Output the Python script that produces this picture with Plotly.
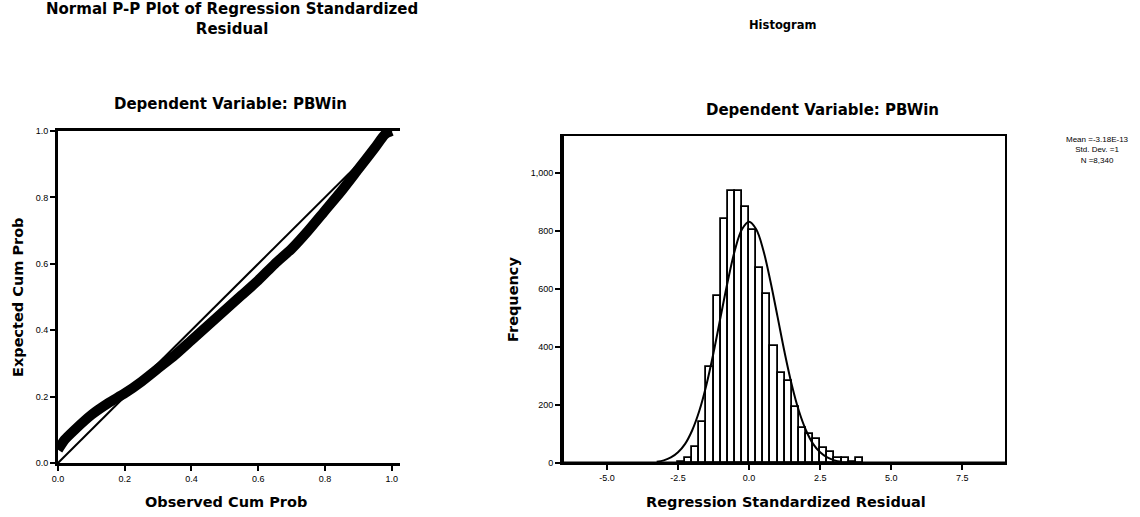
import plotly.graph_objects as go

# ---------------- data ----------------
# P-P plot (observed cumulative probability vs expected cumulative probability)
pp_observed = [0.00, 0.02, 0.05, 0.10, 0.15, 0.20, 0.25, 0.30, 0.35, 0.40, 0.45,
               0.50, 0.55, 0.60, 0.65, 0.70, 0.75, 0.80, 0.85, 0.90, 0.95, 0.98, 1.00]
pp_expected = [0.04, 0.07, 0.10, 0.145, 0.18, 0.21, 0.245, 0.285, 0.325, 0.37, 0.415,
               0.46, 0.505, 0.55, 0.60, 0.645, 0.70, 0.76, 0.82, 0.885, 0.95, 0.99, 1.00]
ref_line = [0.0, 1.0]

pp_ticks = [0.0, 0.2, 0.4, 0.6, 0.8, 1.0]
pp_ticklabels = ["0.0", "0.2", "0.4", "0.6", "0.8", "1.0"]

# Histogram of regression standardized residuals (bin width 0.25)
bin_centers = [-2.375, -2.125, -1.875, -1.625, -1.375, -1.125, -0.875, -0.625, -0.375, -0.125,
               0.125, 0.375, 0.625, 0.875, 1.125, 1.375, 1.625, 1.875, 2.125, 2.375,
               2.625, 2.875, 3.125, 3.375, 3.625, 3.875]
bin_counts = [5, 17, 55, 140, 332, 577, 840, 938, 938, 884,
              805, 672, 583, 405, 312, 282, 192, 122, 100, 84,
              52, 38, 18, 18, 5, 17]
bin_width = 0.25

# Normal curve overlay
curve_x = [-3.25, -3.0, -2.75, -2.5, -2.25, -2.0, -1.75, -1.5, -1.25, -1.0, -0.75, -0.5, -0.25, 0.0,
           0.25, 0.5, 0.75, 1.0, 1.25, 1.5, 1.75, 2.0, 2.25, 2.5, 2.75, 3.0, 3.25]
curve_y = [4, 9, 19, 37, 66, 113, 180, 270, 381, 505, 627, 734, 806, 832,
           806, 734, 627, 505, 381, 270, 180, 113, 66, 37, 19, 9, 4]

hist_xticks = [-5.0, -2.5, 0.0, 2.5, 5.0, 7.5]
hist_xticklabels = ["-5.0", "-2.5", "0.0", "2.5", "5.0", "7.5"]
hist_yticks = [0, 200, 400, 600, 800, 1000]
hist_yticklabels = ["0", "200", "400", "600", "800", "1,000"]

stats_text = ["Mean =-3.18E-13", "Std. Dev. =1", "N =8,340"]

# ---------------- figure ----------------
W, H = 1140, 517
def px(x):
    return x / W
def py(y):
    return 1 - y / H

FONT = "Liberation Sans, Arial, sans-serif"
BFONT = "DejaVu Sans, Liberation Sans, sans-serif"

fig = go.Figure()

# P-P plot
fig.add_trace(go.Scatter(x=ref_line, y=ref_line, mode="lines",
                         line=dict(color="black", width=2),
                         xaxis="x", yaxis="y", showlegend=False))
fig.add_trace(go.Scatter(x=pp_observed, y=pp_expected, mode="lines",
                         line=dict(color="black", width=10, shape="spline", smoothing=0.6),
                         xaxis="x", yaxis="y", showlegend=False))

# Histogram
fig.add_trace(go.Bar(x=bin_centers, y=bin_counts, width=bin_width,
                     marker=dict(color="white", line=dict(color="black", width=1.8)),
                     xaxis="x2", yaxis="y2", showlegend=False))
fig.add_trace(go.Scatter(x=curve_x, y=curve_y, mode="lines",
                         line=dict(color="black", width=2, shape="spline"),
                         xaxis="x2", yaxis="y2", showlegend=False))

tickfont = dict(family=FONT, size=9, color="black")
axis_common = dict(showgrid=False, zeroline=False, showline=True, linecolor="black",
                   ticks="outside", ticklen=5, tickwidth=1.5, tickcolor="black",
                   tickfont=tickfont, automargin=False)
atitle_font = dict(family=BFONT, size=14.5, color="black")

fig.update_layout(
    width=W, height=H,
    margin=dict(l=0, r=0, t=0, b=0),
    paper_bgcolor="white", plot_bgcolor="white",
    bargap=0,
    xaxis=dict(domain=[px(58), px(400)], range=[0, 1.025], anchor="y",
               tickvals=pp_ticks, ticktext=pp_ticklabels, linewidth=3, mirror=True,
               **axis_common),
    yaxis=dict(domain=[py(463), py(131)], range=[0, 1], anchor="x",
               tickvals=pp_ticks, ticktext=pp_ticklabels, linewidth=3,
               **axis_common),
    xaxis2=dict(domain=[px(562), px(1005)], range=[-6.58, 9.0], anchor="y2",
                tickvals=hist_xticks, ticktext=hist_xticklabels, linewidth=2, mirror=True,
                **axis_common),
    yaxis2=dict(domain=[py(463), py(136)], range=[0, 1128], anchor="x2",
                tickvals=hist_yticks, ticktext=hist_yticklabels, linewidth=2, mirror=True,
                **axis_common),
)

# thick left / bottom edges of histogram frame
fig.add_shape(type="line", xref="x2 domain", yref="y2 domain", x0=0, x1=0, y0=0, y1=1,
              line=dict(color="black", width=4))
fig.add_shape(type="line", xref="x2 domain", yref="y2 domain", x0=0, x1=1, y0=0, y1=0,
              line=dict(color="black", width=3))

def ann(text, x, y, font, angle=0, xanchor="center", yanchor="middle"):
    fig.add_annotation(text=text, x=px(x), y=py(y), xref="paper", yref="paper",
                       xanchor=xanchor, yanchor=yanchor, showarrow=False, font=font,
                       textangle=angle, align="center")

ann("<b>Normal P-P Plot of Regression Standardized<br>Residual</b>", 232, 19,
    dict(family=BFONT, size=15, color="black"))
ann("<b>Histogram</b>", 782, 25, dict(family=BFONT, size=11.5, color="black"))
ann("<b>Dependent Variable: PBWin</b>", 230, 104, dict(family=BFONT, size=15, color="black"))
ann("<b>Dependent Variable: PBWin</b>", 822, 110, dict(family=BFONT, size=15, color="black"))

# axis titles
ann("<b>Observed Cum Prob</b>", 226, 502, atitle_font)
ann("<b>Regression Standardized Residual</b>", 786, 502, atitle_font)
ann("<b>Expected Cum Prob</b>", 18, 297, atitle_font, angle=-90)
ann("<b>Frequency</b>", 513, 300, atitle_font, angle=-90)

ann("<br>".join(stats_text), 1097, 150, dict(family=FONT, size=8, color="black"))

fig.write_html("out.html", config={"displayModeBar": False},
               post_script="document.body.style.margin='0';")
